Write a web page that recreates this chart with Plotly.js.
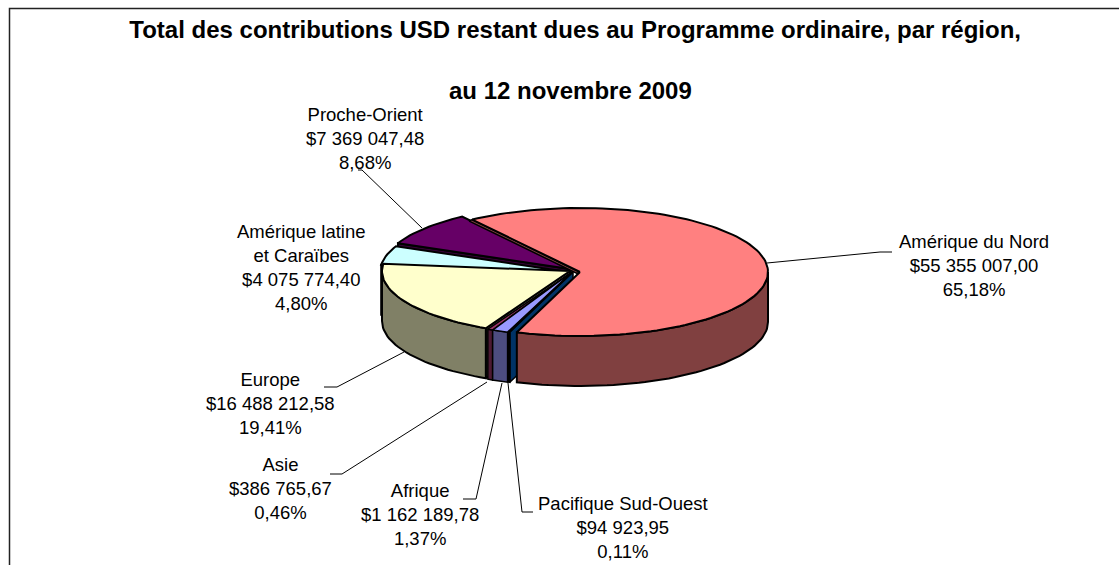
<!DOCTYPE html>
<html>
<head>
<meta charset="utf-8">
<script src="https://cdn.plot.ly/plotly-3.0.1.min.js"></script>
<style>html,body{margin:0;padding:0;background:#fff;overflow:hidden}#chart{width:1119px;height:565px}</style>
</head>
<body>
<div id="chart"></div>
<script>
// ---- chart data ----
var regions = ["Amérique du Nord","Pacifique Sud-Ouest","Afrique","Asie","Europe","Amérique latine<br>et Caraïbes","Proche-Orient"];
var amounts = ["$55 355 007,00","$94 923,95","$1 162 189,78","$386 765,67","$16 488 212,58","$4 075 774,40","$7 369 047,48"];
var values  = [55355007.00,94923.95,1162189.78,386765.67,16488212.58,4075774.40,7369047.48];
var percents = ["65,18%","0,11%","1,37%","0,46%","19,41%","4,80%","8,68%"];
var titleLine1 = "Total des contributions USD restant dues au Programme ordinaire, par région,";
var titleLine2 = "au 12 novembre 2009";

// ---- styling ----
var topColors  = ["#FF8080","#003366","#9999FF","#993366","#FFFFCC","#CCFFFF","#660066"];
var sideColors = ["#804040","#003366","#4D4D80","#4D1A33","#808066","#668080","#330033"];
var apexX = [580,573,572,572,570,568,570];   // exploded slice apexes
var apexY = [272,272,272,272,271,272,269];
var lineW = [2,1.5,1.5,1.5,2,2,2];
var RX = 188, RY = 64, DEPTH = 50, START = -35;
var labelX = [974,623,420,280,270,301,365];
var labelY = [265,527,514,488,403,267,138];

// ---- geometry derived from the values ----
var total = values.reduce(function(a,b){return a+b;},0);
var angles = [START];
values.forEach(function(v,i){angles.push(angles[i]+v/total*360);});
function rim(i,deg,dy){var r=deg*Math.PI/180;return [apexX[i]+RX*Math.sin(r),apexY[i]-RY*Math.cos(r)+(dy||0)];}
function arc(i,a,b,dy){var p=[],n=Math.max(2,Math.ceil(Math.abs(b-a)/2));for(var k=0;k<=n;k++){p.push(rim(i,a+(b-a)*k/n,dy));}return p;}
function poly(pts,fill,w){
  var xs=pts.map(function(p){return p[0];}),ys=pts.map(function(p){return p[1];});
  xs.push(xs[0]);ys.push(ys[0]);
  return {type:"scatter",mode:"lines",x:xs,y:ys,fill:"toself",fillcolor:fill,line:{color:"#000",width:w||2},hoverinfo:"skip",showlegend:false};
}
function topFace(i){return poly([[apexX[i],apexY[i]]].concat(arc(i,angles[i],angles[i+1])),topColors[i],lineW[i]);}
function radialFace(i,deg){var r=rim(i,deg),a=[apexX[i],apexY[i]];
  return poly([a,r,[r[0],r[1]+DEPTH],[a[0],a[1]+DEPTH]],sideColors[i],lineW[i]);}
function wall(i){
  var a=Math.max(angles[i],90), b=Math.min(angles[i+1],270);
  if(a>=b) return null;
  var up=arc(i,a,b),down=arc(i,b,a,DEPTH);
  return poly(up.concat(down),sideColors[i],lineW[i]);
}
// thin sliver of the red slice's cut side, seen along its back edge
function backStrip(i){var r=rim(i,angles[i]),a=[apexX[i],apexY[i]];
  return poly([a,r,[r[0]-3,r[1]+1.5],[a[0]-3,a[1]+1.5]],sideColors[i],1.5);}

var traces=[];
[6,5].forEach(function(i){traces.push(radialFace(i,angles[i]));});
[6,5].forEach(function(i){traces.push(topFace(i));});
traces.push(backStrip(0));
[4,3,2,1].forEach(function(i){
  traces.push(radialFace(i,angles[i]));
  var w=wall(i); if(w) traces.push(w);
  traces.push(topFace(i));
});
traces.push(wall(0));
traces.push(topFace(0));

var FONT="Liberation Sans, Arial, sans-serif";
var annotations = regions.map(function(r,i){
  return {x:labelX[i],y:labelY[i],xref:"x",yref:"y",xanchor:"center",yanchor:"middle",showarrow:false,align:"center",
    text:r+"<br>"+amounts[i]+"<br>"+percents[i],font:{family:FONT,size:18.5,color:"#000"}};
});
annotations.push({x:570,y:90,xref:"x",yref:"y",xanchor:"center",yanchor:"middle",showarrow:false,
  text:"<b>"+titleLine2+"</b>",font:{family:FONT,size:24,color:"#000"}});

function leader(pts){
  return {type:"path",xref:"x",yref:"y",line:{color:"#000",width:1},
    path:pts.map(function(p,k){return (k?"L":"M")+p[0]+","+p[1];}).join(" ")};
}
var shapes=[
  {type:"path",xref:"x",yref:"y",line:{color:"#222",width:1.5},path:"M9.5,565 L9.5,8.5 L1119,8.5"},
  leader([[767,263],[880,252],[892,252]]),
  leader([[422,228],[362,170],[358,170]]),
  leader([[404,352],[337,387],[324,387]]),
  leader([[487,382],[342,474],[330,474]]),
  leader([[502,383],[476,499],[463,499]]),
  leader([[508,383],[522,512],[533,512]])
];

Plotly.newPlot("chart",traces,{
  width:1119,height:565,margin:{l:0,r:0,t:0,b:0},paper_bgcolor:"#fff",plot_bgcolor:"#fff",showlegend:false,
  title:{text:"<b>"+titleLine1+"</b>",x:0.514,xanchor:"center",y:0.948,yanchor:"middle",font:{family:FONT,size:24,color:"#000"}},
  xaxis:{range:[0,1119],visible:false,fixedrange:true},
  yaxis:{range:[565,0],visible:false,fixedrange:true},
  annotations:annotations,shapes:shapes
},{displayModeBar:false,staticPlot:true});
</script>
</body>
</html>
